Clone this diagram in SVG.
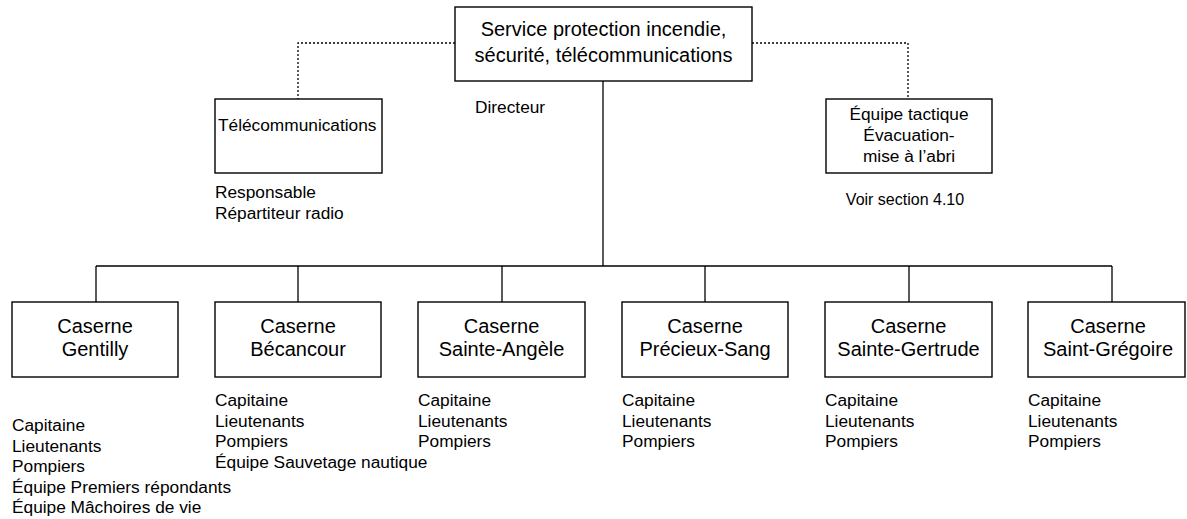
<svg xmlns="http://www.w3.org/2000/svg" width="1187" height="519" viewBox="0 0 1187 519">
  <style>
    .box { fill: #ffffff; stroke: #000000; stroke-width: 1.4; }
    .link { fill: none; stroke: #000000; stroke-width: 1.3; }
    .dot { fill: none; stroke: #000000; stroke-width: 1.3; stroke-dasharray: 2 2; }
    text { font-family: "Liberation Sans", Arial, sans-serif; fill: #000000; }
    .title { font-size: 20px; text-anchor: middle; }
    .label { font-size: 17.3px; }
    .mid { text-anchor: middle; }
  </style>
  <rect width="1187" height="519" fill="#ffffff"/>

  <!-- connectors -->
  <g id="connectors">
    <path class="dot" d="M455 43 H298 V99"/>
    <path class="dot" d="M752 43 H908 V99"/>
    <path class="link" d="M603 81 V266"/>
    <path class="link" d="M96 266 H1112"/>
    <path class="link" d="M96 266 V302"/>
    <path class="link" d="M298 266 V302"/>
    <path class="link" d="M502 266 V302"/>
    <path class="link" d="M705 266 V302"/>
    <path class="link" d="M909 266 V302"/>
    <path class="link" d="M1112 266 V302"/>
  </g>

  <!-- head of service -->
  <g id="service">
    <rect class="box" x="455" y="7" width="297" height="74"/>
    <text class="title" x="603.5" y="36">Service protection incendie,</text>
    <text class="title" x="603.5" y="62">sécurité, télécommunications</text>
    <text class="label" x="475" y="113">Directeur</text>
  </g>

  <g id="telecom">
    <rect class="box" x="215" y="99" width="167" height="74"/>
    <text class="label" x="218" y="131">Télécommunications</text>
    <text class="label" x="215" y="198">Responsable</text>
    <text class="label" x="215" y="219">Répartiteur radio</text>
  </g>

  <g id="equipe-tactique">
    <rect class="box" x="826" y="99" width="166" height="74"/>
    <text class="label mid" x="909" y="120">Équipe tactique</text>
    <text class="label mid" x="909" y="141">Évacuation-</text>
    <text class="label mid" x="909" y="162">mise à l’abri</text>
    <text class="label mid" x="905" y="205" style="font-size:16px">Voir section 4.10</text>
  </g>

  <!-- stations -->
  <g id="gentilly">
    <rect class="box" x="12" y="302" width="166" height="75"/>
    <text class="title" x="95" y="333">Caserne</text>
    <text class="title" x="95" y="356">Gentilly</text>
    <text class="label" x="12" y="431">Capitaine</text>
    <text class="label" x="12" y="451.5">Lieutenants</text>
    <text class="label" x="12" y="472">Pompiers</text>
    <text class="label" x="12" y="492.5">Équipe Premiers répondants</text>
    <text class="label" x="12" y="513">Équipe Mâchoires de vie</text>
  </g>

  <g id="becancour">
    <rect class="box" x="215" y="302" width="166" height="75"/>
    <text class="title" x="298" y="333">Caserne</text>
    <text class="title" x="298" y="356">Bécancour</text>
    <text class="label" x="215" y="406">Capitaine</text>
    <text class="label" x="215" y="426.5">Lieutenants</text>
    <text class="label" x="215" y="447">Pompiers</text>
    <text class="label" x="215" y="467.5">Équipe Sauvetage nautique</text>
  </g>

  <g id="sainte-angele">
    <rect class="box" x="418" y="302" width="167" height="75"/>
    <text class="title" x="501.5" y="333">Caserne</text>
    <text class="title" x="501.5" y="356">Sainte-Angèle</text>
    <text class="label" x="418" y="406">Capitaine</text>
    <text class="label" x="418" y="426.5">Lieutenants</text>
    <text class="label" x="418" y="447">Pompiers</text>
  </g>

  <g id="precieux-sang">
    <rect class="box" x="622" y="302" width="166" height="75"/>
    <text class="title" x="705" y="333">Caserne</text>
    <text class="title" x="705" y="356">Précieux-Sang</text>
    <text class="label" x="622" y="406">Capitaine</text>
    <text class="label" x="622" y="426.5">Lieutenants</text>
    <text class="label" x="622" y="447">Pompiers</text>
  </g>

  <g id="sainte-gertrude">
    <rect class="box" x="825" y="302" width="167" height="75"/>
    <text class="title" x="908.5" y="333">Caserne</text>
    <text class="title" x="908.5" y="356">Sainte-Gertrude</text>
    <text class="label" x="825" y="406">Capitaine</text>
    <text class="label" x="825" y="426.5">Lieutenants</text>
    <text class="label" x="825" y="447">Pompiers</text>
  </g>

  <g id="saint-gregoire">
    <rect class="box" x="1028" y="302" width="157" height="75"/>
    <text class="title" x="1108" y="333">Caserne</text>
    <text class="title" x="1108" y="356">Saint-Grégoire</text>
    <text class="label" x="1028" y="406">Capitaine</text>
    <text class="label" x="1028" y="426.5">Lieutenants</text>
    <text class="label" x="1028" y="447">Pompiers</text>
  </g>
</svg>
